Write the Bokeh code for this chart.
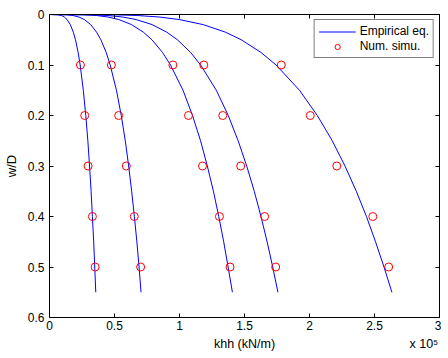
from bokeh.plotting import figure
from bokeh.models import (Range1d, LinearAxis, FixedTicker, Legend, LegendItem,
                          ColumnDataSource)
from bokeh.embed import file_html
from bokeh.resources import INLINE

# ---- data (k in units of 1e5 kN/m) ----
w_line = [0, 0.0005, 0.002, 0.005, 0.01, 0.02, 0.035, 0.05, 0.075, 0.1,
          0.15, 0.2, 0.25, 0.3, 0.35, 0.4, 0.45, 0.5, 0.55]
k_eq1 = [0, 0.065, 0.092, 0.114, 0.135, 0.160, 0.183, 0.200, 0.220, 0.236,
         0.260, 0.279, 0.295, 0.308, 0.320, 0.330, 0.340, 0.348, 0.356]
k_eq2 = [0, 0.129, 0.181, 0.226, 0.268, 0.317, 0.362, 0.395, 0.436, 0.467,
         0.515, 0.552, 0.583, 0.609, 0.632, 0.653, 0.672, 0.689, 0.704]
k_eq3 = [0, 0.258, 0.361, 0.451, 0.533, 0.631, 0.722, 0.788, 0.869, 0.931,
         1.027, 1.100, 1.162, 1.214, 1.261, 1.302, 1.340, 1.374, 1.407]
k_eq4 = [0, 0.322, 0.451, 0.563, 0.666, 0.789, 0.902, 0.984, 1.085, 1.163,
         1.283, 1.375, 1.451, 1.517, 1.575, 1.627, 1.674, 1.717, 1.757]
k_eq5 = [0, 0.483, 0.676, 0.844, 0.999, 1.182, 1.353, 1.475, 1.626, 1.743,
         1.923, 2.060, 2.175, 2.273, 2.360, 2.438, 2.508, 2.573, 2.634]

w_sim = [0.1, 0.2, 0.3, 0.4, 0.5]
k_sim1 = [0.238, 0.271, 0.297, 0.330, 0.351]
k_sim2 = [0.476, 0.532, 0.591, 0.652, 0.701]
k_sim3 = [0.949, 1.069, 1.177, 1.307, 1.389]
k_sim4 = [1.187, 1.333, 1.471, 1.655, 1.740]
k_sim5 = [1.783, 2.006, 2.210, 2.487, 2.609]

x_ticks = [0, 0.5, 1, 1.5, 2, 2.5, 3]
x_tick_labels = ["0", "0.5", "1", "1.5", "2", "2.5", "3"]
y_ticks = [0, 0.1, 0.2, 0.3, 0.4, 0.5, 0.6]
y_tick_labels = ["0", "0.1", "0.2", "0.3", "0.4", "0.5", "0.6"]
x_label = "khh (kN/m)"
x_scale_note = "x 10\u2075"

FONT = "Liberation Sans"

p = figure(frame_width=390, frame_height=303,
           x_range=Range1d(0, 3), y_range=Range1d(0.6, 0),
           output_backend="svg", toolbar_location=None,
           x_axis_location=None, y_axis_location=None,
           min_border_left=41, min_border_top=14, min_border_right=2,
           min_border_bottom=38, background_fill_color="white",
           border_fill_color="white", outline_line_color=None)
p.xgrid.visible = False
p.ygrid.visible = False

def style_axis(ax, ticks, labels, show_labels):
    ax.ticker = FixedTicker(ticks=ticks)
    ax.minor_tick_line_color = None
    ax.major_tick_in = 4
    ax.major_tick_out = 0
    ax.axis_line_color = "black"
    ax.major_tick_line_color = "black"
    ax.axis_line_width = 1
    if show_labels:
        ax.major_label_overrides = {t: l for t, l in zip(ticks, labels)}
        ax.major_label_text_font = FONT
        ax.major_label_text_font_size = "12px"
        ax.major_label_text_color = "black"
        ax.major_label_standoff = 3
    else:
        ax.major_label_overrides = {t: "" for t in ticks}
        ax.major_label_text_font_size = "0px"
        ax.major_label_standoff = 0

xb = LinearAxis()
style_axis(xb, x_ticks, x_tick_labels, True)
p.add_layout(xb, "below")

# second row below the tick labels: axis title and the x 10^5 multiplier
xb2 = LinearAxis()
xb2.ticker = FixedTicker(ticks=[1.5, 2.88])
xb2.major_label_overrides = {1.5: x_label, 2.88: x_scale_note}
xb2.axis_line_color = None
xb2.major_tick_line_color = None
xb2.minor_tick_line_color = None
xb2.major_tick_in = 0
xb2.major_tick_out = 0
xb2.major_label_standoff = 4
xb2.major_label_text_font = FONT
xb2.major_label_text_font_size = "12.5px"
xb2.major_label_text_color = "black"
p.add_layout(xb2, "below")

yl = LinearAxis(axis_label="w/D")
style_axis(yl, y_ticks, y_tick_labels, True)
yl.major_label_standoff = 5
yl.axis_label_text_font = FONT
yl.axis_label_text_font_size = "13px"
yl.axis_label_text_font_style = "normal"
yl.axis_label_text_color = "black"
yl.axis_label_standoff = 6
p.add_layout(yl, "left")

xt = LinearAxis()
style_axis(xt, x_ticks, x_tick_labels, False)
p.add_layout(xt, "above")

yr = LinearAxis()
style_axis(yr, y_ticks, y_tick_labels, False)
p.add_layout(yr, "right")

lines_src = ColumnDataSource(dict(
    xs=[k_eq1, k_eq2, k_eq3, k_eq4, k_eq5],
    ys=[w_line, w_line, w_line, w_line, w_line]))
r_line = p.multi_line("xs", "ys", source=lines_src, line_color="#0000ff",
                      line_width=1)

sim_x = k_sim1 + k_sim2 + k_sim3 + k_sim4 + k_sim5
sim_y = w_sim * 5
r_pts = p.scatter(sim_x, sim_y, marker="circle", size=8, fill_color=None,
                  line_color="#ff0000", line_width=1)

legend = Legend(items=[LegendItem(label="Empirical eq.", renderers=[r_line]),
                       LegendItem(label="Num. simu.", renderers=[r_pts])],
                location="top_right")
legend.label_text_font = FONT
legend.label_text_font_size = "12px"
legend.label_text_color = "black"
legend.glyph_width = 37
legend.glyph_height = 13
legend.label_height = 13
legend.label_standoff = 4
legend.spacing = 1
legend.padding = 4
legend.margin = 5
legend.border_line_color = "black"
legend.border_line_width = 1
legend.background_fill_color = "white"
legend.background_fill_alpha = 1
p.add_layout(legend, "center")

open("out.html", "w").write(file_html(p, INLINE))
